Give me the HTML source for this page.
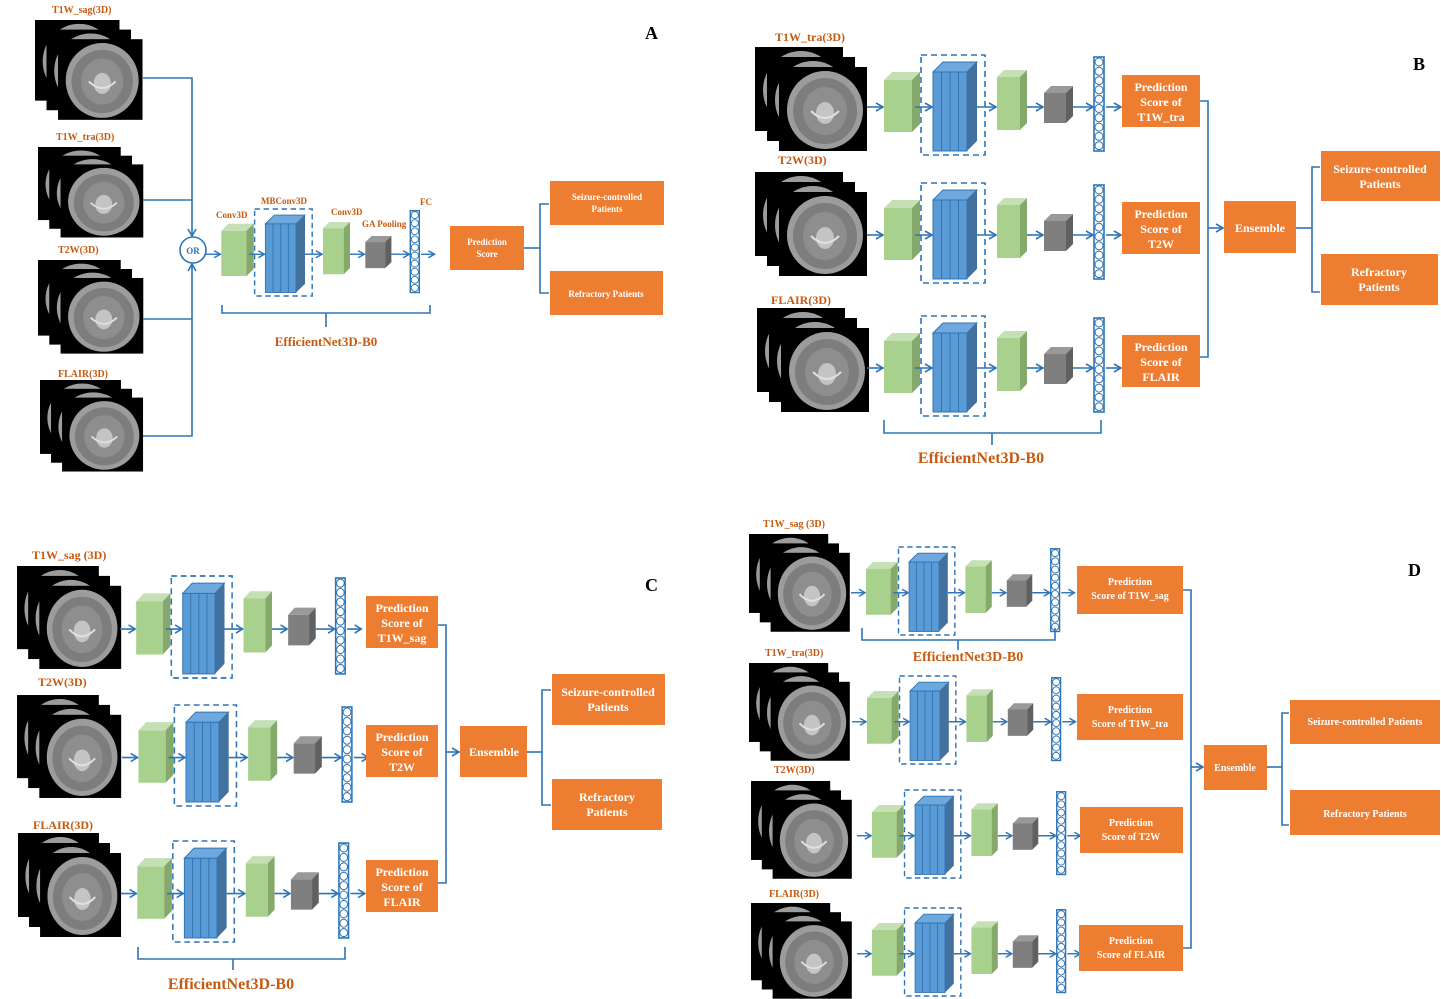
<!DOCTYPE html>
<html><head><meta charset="utf-8"><style>
html,body{margin:0;padding:0;background:#fff}
svg{display:block}
text{font-family:"Liberation Serif",serif;font-weight:bold}
.lb{fill:#C55A11}
.w{fill:#fff;text-anchor:middle}
.c{stroke:#2E75B6;stroke-width:1.6;fill:none}
</style></head><body>
<svg width="1441" height="999" viewBox="0 0 1441 999" xmlns="http://www.w3.org/2000/svg">
<defs>
<marker id="ar" markerWidth="10" markerHeight="10" refX="8" refY="5" orient="auto" markerUnits="userSpaceOnUse">
<polyline points="1,1 8,5 1,9" fill="none" stroke="#2E75B6" stroke-width="1.6"/>
</marker>
<g id="brain">
<rect x="0" y="0" width="88" height="84" fill="#000"/>
<ellipse cx="46" cy="43" rx="38" ry="39" fill="#9c9c9c"/>
<ellipse cx="46" cy="44" rx="32" ry="33" fill="#7d7d7d"/>
<ellipse cx="46" cy="44" rx="22" ry="24" fill="#8e8e8e"/>
<ellipse cx="46" cy="46" rx="9" ry="11" fill="#c4c4c4"/>
<path d="M32 44 Q46 58 60 44" stroke="#e0e0e0" stroke-width="2" fill="none"/>
</g>
<g id="stack">
<use href="#brain" x="0" y="0"/>
<use href="#brain" x="12" y="10"/>
<use href="#brain" x="24" y="20"/>
</g>
<g id="net">
<line class="c" x1="0" y1="52" x2="16" y2="52" marker-end="url(#ar)"/>
<rect x="17" y="25" width="28" height="52" fill="#A9D18E"/>
<polygon points="17,25 25,17 53,17 45,25" fill="#C5E0B4"/>
<polygon points="45,25 53,17 53,69 45,77" fill="#85A96A"/>
<line class="c" x1="48" y1="52" x2="65" y2="52" marker-end="url(#ar)"/>
<rect x="54" y="0" width="64" height="100" fill="none" stroke="#2E75B6" stroke-width="1.6" stroke-dasharray="6,4"/>
<rect x="66" y="17" width="34" height="79" fill="#5B9BD5" stroke="#2E75B6" stroke-width="1"/>
<line x1="74.5" y1="17" x2="74.5" y2="96" stroke="#2E75B6"/>
<line x1="83" y1="17" x2="83" y2="96" stroke="#2E75B6"/>
<line x1="91.5" y1="17" x2="91.5" y2="96" stroke="#2E75B6"/>
<polygon points="66,17 76,7 110,7 100,17" fill="#6FA8DC" stroke="#2E75B6" stroke-width="1"/>
<polygon points="100,17 110,7 110,86 100,96" fill="#41719C"/>
<line class="c" x1="110" y1="52" x2="129" y2="52" marker-end="url(#ar)"/>
<rect x="130" y="22" width="23" height="53" fill="#A9D18E"/>
<polygon points="130,22 137,15 160,15 153,22" fill="#C5E0B4"/>
<polygon points="153,22 160,15 160,68 153,75" fill="#85A96A"/>
<line class="c" x1="160" y1="52" x2="176" y2="52" marker-end="url(#ar)"/>
<rect x="177" y="38" width="22" height="30" fill="#7f7f7f"/>
<polygon points="177,38 184,31 206,31 199,38" fill="#999"/>
<polygon points="199,38 206,31 206,61 199,68" fill="#606060"/>
<line class="c" x1="206" y1="52" x2="226" y2="52" marker-end="url(#ar)"/>
<rect x="227" y="2" width="10" height="94" fill="#fff" stroke="#2E75B6" stroke-width="1.6"/>
<g fill="#fff" stroke="#2E75B6" stroke-width="1">
<circle cx="232" cy="7" r="4"/><circle cx="232" cy="16.3" r="4"/><circle cx="232" cy="25.6" r="4"/><circle cx="232" cy="34.9" r="4"/><circle cx="232" cy="44.2" r="4"/><circle cx="232" cy="53.5" r="4"/><circle cx="232" cy="62.8" r="4"/><circle cx="232" cy="72.1" r="4"/><circle cx="232" cy="81.4" r="4"/><circle cx="232" cy="90.7" r="4"/>
</g>
<line class="c" x1="239" y1="52" x2="254" y2="52" marker-end="url(#ar)"/>
</g>
</defs>

<text x="645" y="39" font-size="18">A</text>
<text x="1413" y="70" font-size="18">B</text>
<text x="645" y="591" font-size="18">C</text>
<text x="1408" y="576" font-size="18">D</text>

<!-- A -->
<text class="lb" x="52" y="13" font-size="10">T1W_sag(3D)</text>
<text class="lb" x="56" y="140" font-size="10">T1W_tra(3D)</text>
<text class="lb" x="58" y="253" font-size="10">T2W(3D)</text>
<text class="lb" x="58" y="377" font-size="10">FLAIR(3D)</text>
<use href="#stack" transform="translate(35,20) scale(0.96)"/>
<use href="#stack" transform="translate(38,147) scale(0.94,0.87)"/>
<use href="#stack" transform="translate(38,260) scale(0.94,0.9)"/>
<use href="#stack" transform="translate(40,380) scale(0.92,0.88)"/>
<polyline class="c" points="143,78 192,78 192,236" marker-end="url(#ar)"/>
<line class="c" x1="143" y1="200" x2="192" y2="200"/>
<line class="c" x1="143" y1="319" x2="192" y2="319"/>
<polyline class="c" points="143,436 192,436 192,264" marker-end="url(#ar)"/>
<circle cx="193" cy="250" r="13" fill="#fff" stroke="#2E75B6" stroke-width="1.6"/>
<text x="193" y="254" font-size="9" fill="#2E75B6" text-anchor="middle">OR</text>
<use href="#net" transform="translate(206,209) scale(0.9,0.87)"/>
<text class="lb" x="216" y="218" font-size="9">Conv3D</text>
<text class="lb" x="261" y="204" font-size="9">MBConv3D</text>
<text class="lb" x="331" y="215" font-size="9">Conv3D</text>
<text class="lb" x="362" y="227" font-size="9">GA Pooling</text>
<text class="lb" x="420" y="205" font-size="9">FC</text>
<rect x="450" y="226" width="74" height="44" fill="#ED7D31"/>
<text class="w" x="487" y="245" font-size="9">Prediction</text>
<text class="w" x="487" y="257" font-size="9">Score</text>
<line class="c" x1="524" y1="248" x2="540" y2="248"/>
<polyline class="c" points="549,204 540,204 540,293 549,293"/>
<rect x="550" y="181" width="114" height="44" fill="#ED7D31"/>
<text class="w" x="607" y="200" font-size="9">Seizure-controlled</text>
<text class="w" x="607" y="212" font-size="9">Patients</text>
<rect x="550" y="271" width="113" height="44" fill="#ED7D31"/>
<text class="w" x="606" y="297" font-size="9">Refractory Patients</text>
<polyline class="c" points="222,305 222,313 430,313 430,305"/>
<line class="c" x1="326" y1="313" x2="326" y2="327"/>
<text class="lb" x="326" y="346" font-size="13" text-anchor="middle">EfficientNet3D-B0</text>

<!-- B -->
<text class="lb" x="775" y="41" font-size="12">T1W_tra(3D)</text>
<text class="lb" x="778" y="164" font-size="12">T2W(3D)</text>
<text class="lb" x="771" y="304" font-size="12">FLAIR(3D)</text>
<use href="#stack" transform="translate(755,47)"/>
<use href="#stack" transform="translate(755,172)"/>
<use href="#stack" transform="translate(757,308)"/>
<use href="#net" transform="translate(867,55)"/>
<use href="#net" transform="translate(867,183)"/>
<use href="#net" transform="translate(867,316)"/>
<rect x="1122" y="75" width="78" height="52" fill="#ED7D31"/>
<text class="w" x="1161" y="91" font-size="12">Prediction</text>
<text class="w" x="1161" y="106" font-size="12">Score of</text>
<text class="w" x="1161" y="121" font-size="12">T1W_tra</text>
<rect x="1122" y="202" width="78" height="52" fill="#ED7D31"/>
<text class="w" x="1161" y="218" font-size="12">Prediction</text>
<text class="w" x="1161" y="233" font-size="12">Score of</text>
<text class="w" x="1161" y="248" font-size="12">T2W</text>
<rect x="1122" y="335" width="78" height="52" fill="#ED7D31"/>
<text class="w" x="1161" y="351" font-size="12">Prediction</text>
<text class="w" x="1161" y="366" font-size="12">Score of</text>
<text class="w" x="1161" y="381" font-size="12">FLAIR</text>
<polyline class="c" points="1200,101 1208,101 1208,357 1200,357"/>
<line class="c" x1="1208" y1="228" x2="1223" y2="228" marker-end="url(#ar)"/>
<rect x="1224" y="201" width="72" height="52" fill="#ED7D31"/>
<text class="w" x="1260" y="232" font-size="12">Ensemble</text>
<line class="c" x1="1296" y1="228" x2="1312" y2="228"/>
<polyline class="c" points="1320,167 1312,167 1312,292 1320,292"/>
<rect x="1321" y="151" width="119" height="50" fill="#ED7D31"/>
<text class="w" x="1380" y="173" font-size="12">Seizure-controlled</text>
<text class="w" x="1380" y="188" font-size="12">Patients</text>
<rect x="1321" y="254" width="117" height="51" fill="#ED7D31"/>
<text class="w" x="1379" y="276" font-size="12">Refractory</text>
<text class="w" x="1379" y="291" font-size="12">Patients</text>
<polyline class="c" points="884,420 884,433 1101,433 1101,420"/>
<line class="c" x1="992" y1="433" x2="992" y2="445"/>
<text class="lb" x="981" y="463" font-size="16" text-anchor="middle">EfficientNet3D-B0</text>

<!-- C -->
<text class="lb" x="32" y="559" font-size="12">T1W_sag (3D)</text>
<text class="lb" x="38" y="686" font-size="12">T2W(3D)</text>
<text class="lb" x="33" y="829" font-size="12">FLAIR(3D)</text>
<use href="#stack" transform="translate(17,566) scale(0.93,0.99)"/>
<use href="#stack" transform="translate(17,695) scale(0.93,0.99)"/>
<use href="#stack" transform="translate(18,833) scale(0.92,1)"/>
<use href="#net" transform="translate(120,576) scale(0.95,1.02)"/>
<use href="#net" transform="translate(122,705) scale(0.97,1.01)"/>
<use href="#net" transform="translate(121,841) scale(0.96,1.01)"/>
<rect x="366" y="596" width="72" height="52" fill="#ED7D31"/>
<text class="w" x="402" y="612" font-size="12">Prediction</text>
<text class="w" x="402" y="627" font-size="12">Score of</text>
<text class="w" x="402" y="642" font-size="12">T1W_sag</text>
<rect x="366" y="725" width="72" height="52" fill="#ED7D31"/>
<text class="w" x="402" y="741" font-size="12">Prediction</text>
<text class="w" x="402" y="756" font-size="12">Score of</text>
<text class="w" x="402" y="771" font-size="12">T2W</text>
<rect x="366" y="860" width="72" height="52" fill="#ED7D31"/>
<text class="w" x="402" y="876" font-size="12">Prediction</text>
<text class="w" x="402" y="891" font-size="12">Score of</text>
<text class="w" x="402" y="906" font-size="12">FLAIR</text>
<polyline class="c" points="438,625 446,625 446,883 438,883"/>
<line class="c" x1="446" y1="752" x2="459" y2="752" marker-end="url(#ar)"/>
<rect x="460" y="726" width="67" height="51" fill="#ED7D31"/>
<text class="w" x="494" y="756" font-size="12">Ensemble</text>
<line class="c" x1="527" y1="752" x2="542" y2="752"/>
<polyline class="c" points="551,690 542,690 542,805 551,805"/>
<rect x="552" y="674" width="113" height="51" fill="#ED7D31"/>
<text class="w" x="608" y="696" font-size="12">Seizure-controlled</text>
<text class="w" x="608" y="711" font-size="12">Patients</text>
<rect x="552" y="779" width="110" height="51" fill="#ED7D31"/>
<text class="w" x="607" y="801" font-size="12">Refractory</text>
<text class="w" x="607" y="816" font-size="12">Patients</text>
<polyline class="c" points="138,947 138,959 345,959 345,947"/>
<line class="c" x1="233" y1="959" x2="233" y2="970"/>
<text class="lb" x="231" y="989" font-size="16" text-anchor="middle">EfficientNet3D-B0</text>

<!-- D -->
<text class="lb" x="763" y="527" font-size="10">T1W_sag (3D)</text>
<text class="lb" x="765" y="656" font-size="10">T1W_tra(3D)</text>
<text class="lb" x="774" y="773" font-size="10">T2W(3D)</text>
<text class="lb" x="769" y="897" font-size="10">FLAIR(3D)</text>
<use href="#stack" transform="translate(749,534) scale(0.9,0.94)"/>
<use href="#stack" transform="translate(749,663) scale(0.9,0.94)"/>
<use href="#stack" transform="translate(751,781) scale(0.9,0.94)"/>
<use href="#stack" transform="translate(751,903) scale(0.9,0.92)"/>
<use href="#net" transform="translate(851,547) scale(0.88)"/>
<use href="#net" transform="translate(852,676) scale(0.88)"/>
<use href="#net" transform="translate(857,790) scale(0.88)"/>
<use href="#net" transform="translate(857,908) scale(0.88)"/>
<rect x="1077" y="566" width="106" height="48" fill="#ED7D31"/>
<text class="w" x="1130" y="585" font-size="10">Prediction</text>
<text class="w" x="1130" y="599" font-size="10">Score of T1W_sag</text>
<rect x="1077" y="694" width="106" height="46" fill="#ED7D31"/>
<text class="w" x="1130" y="713" font-size="10">Prediction</text>
<text class="w" x="1130" y="727" font-size="10">Score of T1W_tra</text>
<rect x="1080" y="807" width="103" height="46" fill="#ED7D31"/>
<text class="w" x="1131" y="826" font-size="10">Prediction</text>
<text class="w" x="1131" y="840" font-size="10">Score of T2W</text>
<rect x="1079" y="925" width="104" height="46" fill="#ED7D31"/>
<text class="w" x="1131" y="944" font-size="10">Prediction</text>
<text class="w" x="1131" y="958" font-size="10">Score of FLAIR</text>
<polyline class="c" points="1183,590 1191,590 1191,948 1183,948"/>
<line class="c" x1="1191" y1="767" x2="1203" y2="767" marker-end="url(#ar)"/>
<rect x="1204" y="745" width="63" height="45" fill="#ED7D31"/>
<text class="w" x="1235" y="771" font-size="10">Ensemble</text>
<line class="c" x1="1267" y1="767" x2="1282" y2="767"/>
<polyline class="c" points="1289,713 1282,713 1282,825 1289,825"/>
<rect x="1290" y="700" width="150" height="44" fill="#ED7D31"/>
<text class="w" x="1365" y="725" font-size="10">Seizure-controlled Patients</text>
<rect x="1290" y="790" width="150" height="45" fill="#ED7D31"/>
<text class="w" x="1365" y="817" font-size="10">Refractory Patients</text>
<polyline class="c" points="862,628 862,640 1055,640 1055,628"/>
<line class="c" x1="958" y1="640" x2="958" y2="650"/>
<text class="lb" x="968" y="661" font-size="14" text-anchor="middle">EfficientNet3D-B0</text>
</svg>
</body></html>
